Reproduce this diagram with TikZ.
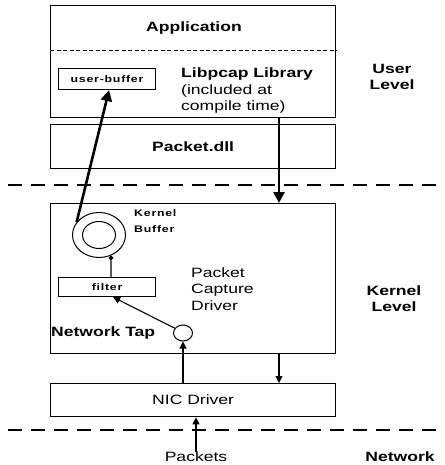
\documentclass[tikz,border=0pt]{standalone}
\usepackage{fontspec}
\setmainfont{Liberation Sans}[FakeStretch=1.3]
\newfontfamily\smallfont{Liberation Sans}[FakeStretch=1.3,LetterSpace=8]
\usetikzlibrary{arrows.meta,positioning,shapes.geometric}
\tikzset{
  layerbox/.style={draw, line width=1.3pt, minimum width=285pt, anchor=north west, inner sep=0pt},
  headtext/.style={font=\fontsize{13.5}{16}\selectfont\bfseries, align=center, inner sep=0pt},
  bodytext/.style={font=\fontsize{13.5}{16.5}\selectfont, align=left, inner sep=0pt},
  smalltext/.style={font=\smallfont\fontsize{9.5}{16}\selectfont\bfseries, align=left, inner sep=0pt},
  bufbox/.style={draw, line width=1.1pt, minimum width=97pt, minimum height=20pt, inner sep=0pt, smalltext, anchor=north west},
  ring/.style={ellipse, draw, line width=1pt, inner sep=0pt},
  levelline/.style={line width=1.3pt, dash pattern=on 14pt off 9pt},
  bigarrow/.style={line width=2.6pt, -{Triangle[length=11pt,width=11pt]}},
  thinarrow/.style={line width=1.1pt, -{Triangle[length=7pt,width=7pt]}}
}
\begin{document}
\begin{tikzpicture}[x=1pt,y=-1pt]
  \useasboundingbox (0,0) rectangle (444,465);

  % User level
  \node[layerbox, minimum height=112pt] (app) at (50,5) {};
  \draw[line width=1pt, dash pattern=on 4pt off 2.5pt]
    ([yshift=-46pt]app.north west) -- ([yshift=-46pt]app.north east);
  \node[headtext] (apptitle) at (194,28) {Application};
  \node[bufbox, minimum height=21pt] (userbuf) at (58,68) {user-buffer};
  \node[bodytext, anchor=west] (libpcap) at (181,91)
    {{\bfseries Libpcap Library}\\(included at\\compile time)};
  \node[headtext] (userlvl) at (392,77) {User\\Level};
  \node[layerbox, headtext, minimum height=44pt] (dll) at (50,124) {Packet.dll};

  \draw[levelline] (8,185) -- (444,185);

  % Kernel level
  \node[layerbox, minimum height=150pt] (kernel) at (50,203) {};
  \node[ring, minimum width=53pt, minimum height=45pt] (kbuf) at (99,235) {};
  \node[ring, minimum width=33pt, minimum height=27pt] (kbufin) at (kbuf.center) {};
  \node[smalltext, anchor=west] (kbuflbl) at (134,221) {Kernel\\Buffer};
  \node[bufbox, minimum height=19pt] (filter) at (58,277) {filter};
  \node[bodytext, anchor=west] (pcd) at (191,289) {Packet\\Capture\\Driver};
  \node[headtext, anchor=west] (taplbl) at (51,333) {Network Tap};
  \node[ring, minimum width=19pt, minimum height=16pt] (tap) at (183,333) {};
  \node[headtext] (kernlvl) at (394,299) {Kernel\\Level};

  \node[layerbox, bodytext, align=center, minimum height=33pt] (nic) at (50,383) {NIC Driver};

  \draw[levelline] (8,430) -- (444,430);

  % Network level
  \node[bodytext] (pkts) at (196,457) {Packets};
  \node[headtext] (netlvl) at (400,457) {Network};

  % Connectors
  \coordinate (drop) at (279,0);
  \draw[bigarrow] (kbuf.150) -- ([xshift=2pt]userbuf.south);
  \draw[bigarrow] (app.south -| drop) -- (kernel.north -| drop);
  \draw[thinarrow] (kernel.south -| drop) -- (nic.north -| drop);
  \draw[thinarrow] (nic.north -| tap) -- (tap.south);
  \draw[thinarrow] (tap.150) -- ([xshift=6pt]filter.south);
  \draw[line width=1.1pt, -{Circle[length=4.5pt]}] ([xshift=4pt]filter.north) -- (kbuf.-60);
  \draw[thinarrow] (pkts.north) -- (nic.south -| pkts.north);
\end{tikzpicture}
\end{document}
